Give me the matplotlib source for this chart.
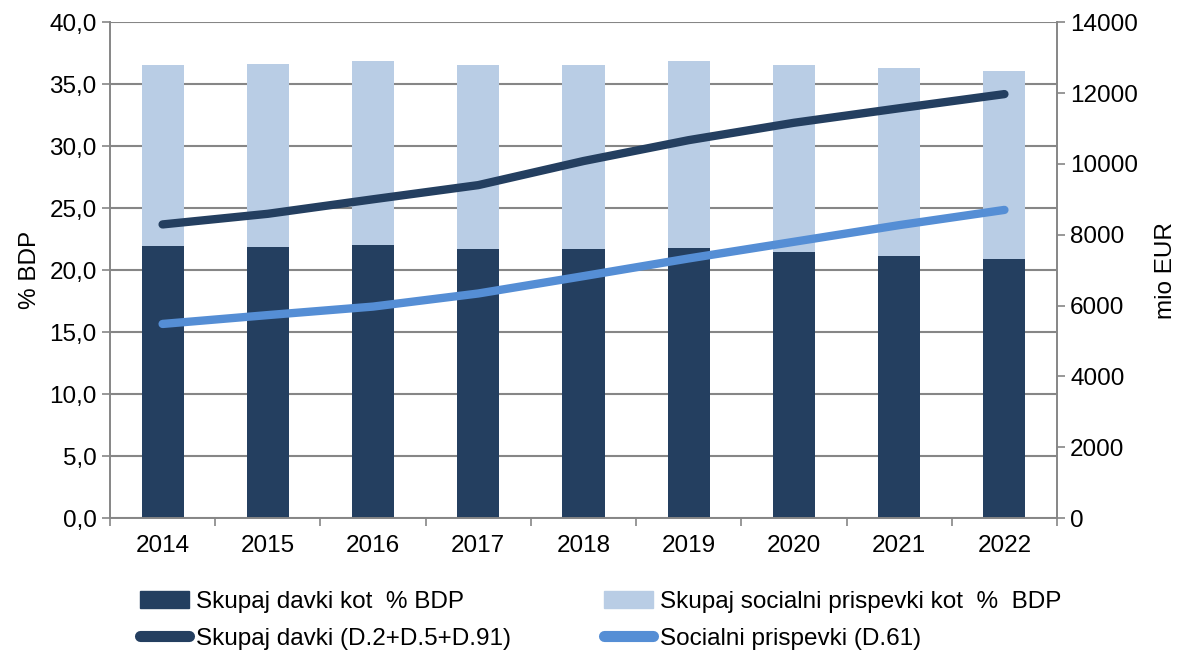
import numpy as np
import matplotlib.pyplot as plt
from matplotlib.patches import Patch
from matplotlib.lines import Line2D

plt.rcParams['font.family'] = ['Liberation Sans', 'DejaVu Sans']

years = ['2014', '2015', '2016', '2017', '2018', '2019', '2020', '2021', '2022']
davki_pct = [21.96, 21.88, 22.04, 21.69, 21.72, 21.77, 21.48, 21.15, 20.86]
prispevki_pct = [14.60, 14.76, 14.79, 14.87, 14.84, 15.06, 15.10, 15.17, 15.24]
davki_mio = [8290, 8590, 9000, 9400, 10080, 10670, 11160, 11570, 11970]
prispevki_mio = [5480, 5730, 5970, 6340, 6830, 7330, 7800, 8270, 8700]

dark = '#243F60'
light = '#B9CDE5'
blue = '#558ED5'
grey = '#868686'
fs = 17.5

fig = plt.figure(figsize=(11.8, 6.53), dpi=100)
ax = fig.add_axes([0.0932, 0.2067, 0.8026, 0.7593])
ax2 = ax.twinx()

x = np.arange(len(years))
ax.bar(x, davki_pct, width=0.4, color=dark, zorder=2)
ax.bar(x, prispevki_pct, width=0.4, bottom=davki_pct, color=light, zorder=2)

ax2.plot(x, davki_mio, color=dark, lw=6, solid_capstyle='round', zorder=3)
ax2.plot(x, prispevki_mio, color=blue, lw=6, solid_capstyle='round', zorder=3)

ax.set_xlim(-0.5, len(years) - 0.5)
ax.set_ylim(0, 40)
ax.set_yticks(np.arange(0, 41, 5))
ax.set_yticklabels([f'{v:.1f}'.replace('.', ',') for v in np.arange(0, 41, 5)])
ax2.set_ylim(0, 14000)
ax2.set_yticks(np.arange(0, 14001, 2000))

ax.set_xticks(x)
ax.set_xticklabels(years)
ax.set_xticks(np.arange(-0.5, len(years)), minor=True)
ax.tick_params(axis='x', which='major', length=0, pad=12)
ax.tick_params(axis='x', which='minor', length=6, color=grey, width=1.2)

ax.grid(axis='y', color=grey, lw=1.5, zorder=0)
ax.set_axisbelow(True)

for a in (ax, ax2):
    for s in a.spines.values():
        s.set_color(grey)
        s.set_linewidth(1.2)
    a.spines['top'].set_visible(False)
    a.tick_params(axis='y', length=6, color=grey, width=1.2, labelsize=fs)
    a.tick_params(axis='x', labelsize=fs)

ax.set_ylabel('% BDP', fontsize=fs, labelpad=6)
ax2.set_ylabel('mio EUR', fontsize=fs, labelpad=12)

handles = [
    Patch(color=dark, label='Skupaj davki kot  % BDP'),
    Line2D([], [], color=dark, lw=8, solid_capstyle='round', label='Skupaj davki (D.2+D.5+D.91)'),
    Patch(color=light, label='Skupaj socialni prispevki kot  %  BDP'),
    Line2D([], [], color=blue, lw=8, solid_capstyle='round', label='Socialni prispevki (D.61)'),
]
fig.legend(handles=handles, loc='upper left', bbox_to_anchor=(140 / 1180, 1 - 591 / 653), ncol=2,
           frameon=False, fontsize=fs, handlelength=2.0, handleheight=0.65, handletextpad=0.3,
           columnspacing=3.85, labelspacing=0.6, borderpad=0, borderaxespad=0)

fig.savefig('out.png', dpi=100)
